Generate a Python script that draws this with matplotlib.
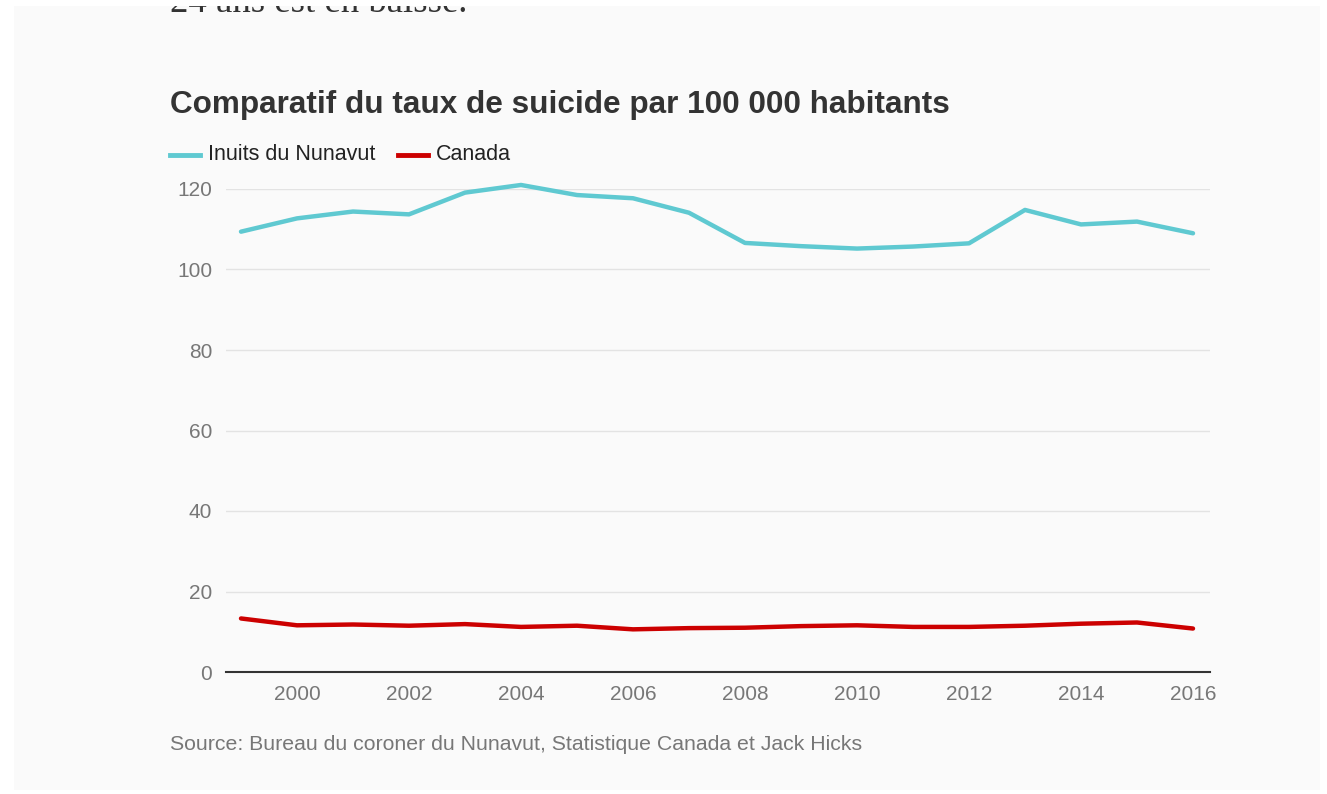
import matplotlib
matplotlib.use("Agg")
import matplotlib.pyplot as plt
from matplotlib.lines import Line2D
from matplotlib.patches import Rectangle

years = list(range(1999, 2017))
inuits = [109.4, 112.7, 114.4, 113.7, 119.1, 121.0, 118.5, 117.7, 114.1, 106.6,
          105.8, 105.2, 105.7, 106.5, 114.8, 111.2, 111.9, 109.0]
canada = [13.3, 11.6, 11.8, 11.5, 11.9, 11.2, 11.5, 10.6, 10.9, 11.0,
          11.4, 11.6, 11.2, 11.2, 11.5, 12.0, 12.3, 10.8]
series_names = ["Inuits du Nunavut", "Canada"]
colors = ["#5fc9d1", "#cc0000"]
yticks = [0, 20, 40, 60, 80, 100, 120]
xticks = [2000, 2002, 2004, 2006, 2008, 2010, 2012, 2014, 2016]
title = "Comparatif du taux de suicide par 100 000 habitants"
source = "Source: Bureau du coroner du Nunavut, Statistique Canada et Jack Hicks"
lead = "24 ans est en baisse."

W, H = 1327, 794
plt.rcParams['font.family'] = ['Liberation Sans', 'DejaVu Sans']
fig = plt.figure(figsize=(W / 100, H / 100), dpi=100, facecolor="white")

def fx(px):
    return px / W

def fy(py):
    return 1 - py / H

# panel background
fig.patches.append(Rectangle((fx(14), fy(790)), fx(1320) - fx(14), fy(6) - fy(790),
                             transform=fig.transFigure, facecolor="#fafafa",
                             edgecolor="none", zorder=-5))
# white strip above panel (clips the lead text)
fig.patches.append(Rectangle((0, fy(6)), 1, 1 - fy(6),
                             transform=fig.transFigure, facecolor="white",
                             edgecolor="none", zorder=10))

# clipped lead text at top
fig.text(fx(170), fy(12), lead, fontsize=26.5, family="Liberation Serif",
         color="#333333", va="baseline", ha="left", zorder=5)

fig.text(fx(170), fy(105), title, fontsize=22.7, fontweight="bold",
         color="#333333", va="center", ha="left")

# legend
lx = [170, 398]
for i, name in enumerate(series_names):
    fig.add_artist(Line2D([fx(lx[i]), fx(lx[i] + 30)], [fy(155), fy(155)],
                          transform=fig.transFigure, color=colors[i], lw=3.5))
    fig.text(fx(lx[i] + 38), fy(155), name, fontsize=15.5, color="#222222",
             va="center", ha="left")

ax = fig.add_axes([fx(226), fy(672), fx(1210) - fx(226), fy(189) - fy(672)])
ax.set_facecolor("none")
ax.plot(years, inuits, color=colors[0], lw=3.2, clip_on=False, solid_capstyle="round", zorder=3)
ax.plot(years, canada, color=colors[1], lw=3.2, clip_on=False, solid_capstyle="round", zorder=3)
ax.set_xlim(1999 - 15 / 56, 2016 + 17 / 56)
ax.set_ylim(0, 120)
ax.set_yticks(yticks)
ax.set_xticks(xticks)
ax.set_xticklabels([str(x) for x in xticks])
for s in ["top", "right", "left"]:
    ax.spines[s].set_visible(False)
ax.spines["bottom"].set_color("#333333")
ax.spines["bottom"].set_linewidth(1.5)
ax.grid(axis="y", color="#e3e3e3", lw=1)
ax.set_axisbelow(True)
ax.tick_params(axis="both", length=0, labelsize=15, labelcolor="#777777")
ax.tick_params(axis="y", pad=10)
ax.tick_params(axis="x", pad=9)

fig.text(fx(170), fy(745), source, fontsize=15.3, color="#777777",
         va="center", ha="left")

fig.savefig("out.png", dpi=100, facecolor="white")
